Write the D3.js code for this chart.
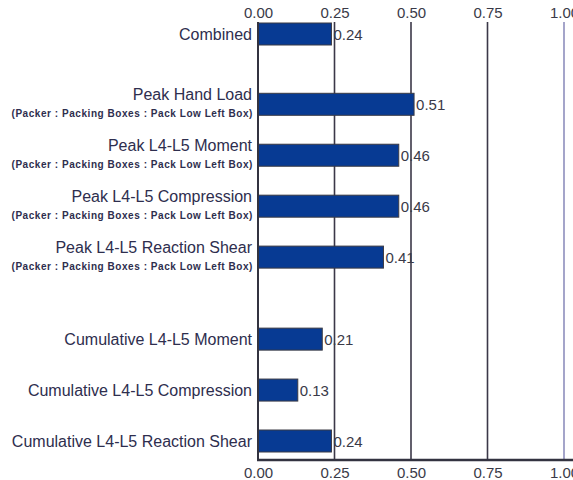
<!DOCTYPE html>
<html>
<head>
<meta charset="utf-8">
<script src="https://cdn.jsdelivr.net/npm/d3@7"></script>
<style>
  html, body { margin: 0; padding: 0; background: #fff; }
  svg { display: block; }
  text { font-family: "Liberation Sans", Arial, sans-serif; }
</style>
</head>
<body>
<svg id="chart" width="573" height="480"></svg>
<script>
const categories = [
  "Combined",
  "Peak Hand Load",
  "Peak L4-L5 Moment",
  "Peak L4-L5 Compression",
  "Peak L4-L5 Reaction Shear",
  "Cumulative L4-L5 Moment",
  "Cumulative L4-L5 Compression",
  "Cumulative L4-L5 Reaction Shear"
];
const subtitles = [
  "",
  "(Packer : Packing Boxes : Pack Low Left Box)",
  "(Packer : Packing Boxes : Pack Low Left Box)",
  "(Packer : Packing Boxes : Pack Low Left Box)",
  "(Packer : Packing Boxes : Pack Low Left Box)",
  "",
  "",
  ""
];
const values = [0.24, 0.51, 0.46, 0.46, 0.41, 0.21, 0.13, 0.24];
const valueLabels = ["0.24", "0.51", "0.46", "0.46", "0.41", "0.21", "0.13", "0.24"];
const groups = [0, 1, 1, 1, 1, 2, 2, 2];
const tickValues = [0, 0.25, 0.5, 0.75, 1.0];
const tickLabels = ["0.00", "0.25", "0.50", "0.75", "1.00"];

// layout
const groupOffset = [0, 0.38, 0.99];
const plotTop = 22, plotBottom = 460;
const x = d3.scaleLinear().domain([0, 1]).range([258, 564]);
const rowPos = categories.map((c, i) => i + groupOffset[groups[i]]);
const y = d3.scaleLinear().domain([0, d3.max(rowPos)]).range([34, 441]);
const barH = 22;

const svg = d3.select("#chart");

// gridlines
svg.append("g").selectAll("line")
  .data(tickValues.filter(v => v > 0))
  .join("line")
  .attr("x1", d => x(d)).attr("x2", d => x(d))
  .attr("y1", plotTop).attr("y2", plotBottom)
  .attr("stroke", d => d === 1 ? "#8e8fbd" : "#3b3848")
  .attr("stroke-width", 1.6);

// bars
const rows = categories.map((c, i) => ({ c, s: subtitles[i], v: values[i], l: valueLabels[i], p: rowPos[i] }));

svg.append("g").selectAll("rect")
  .data(rows)
  .join("rect")
  .attr("x", x(0))
  .attr("y", d => y(d.p) - barH / 2)
  .attr("width", d => x(d.v) - x(0))
  .attr("height", barH)
  .attr("fill", "#073a93")
  .attr("stroke", "#3a3a44")
  .attr("stroke-width", 1);

// value labels
svg.append("g").selectAll("text")
  .data(rows)
  .join("text")
  .attr("x", d => x(d.v) + 2)
  .attr("y", d => y(d.p) + 5.5)
  .attr("font-size", 15)
  .attr("fill", "#3a3a48")
  .text(d => d.l);

// category labels
const lab = svg.append("g").selectAll("g")
  .data(rows)
  .join("g");
lab.append("text")
  .attr("x", 252)
  .attr("y", d => d.s ? y(d.p) - 4 : y(d.p) + 5.5)
  .attr("text-anchor", "end")
  .attr("font-size", 16)
  .attr("fill", "#2e2e4e")
  .text(d => d.c);
lab.filter(d => d.s).append("text")
  .attr("x", 253)
  .attr("y", d => y(d.p) + 12.5)
  .attr("text-anchor", "end")
  .attr("font-size", 10)
  .attr("font-weight", "bold")
  .attr("letter-spacing", 0.55)
  .attr("fill", "#2e2e4e")
  .text(d => d.s);

// axes lines
svg.append("line")
  .attr("x1", x(0)).attr("x2", x(0))
  .attr("y1", plotTop).attr("y2", plotBottom + 1)
  .attr("stroke", "#333340").attr("stroke-width", 2);
svg.append("line")
  .attr("x1", x(0) - 1).attr("x2", 573)
  .attr("y1", plotBottom).attr("y2", plotBottom)
  .attr("stroke", "#333340").attr("stroke-width", 2.5);

// tick labels via axes
const fmt = (d) => tickLabels[tickValues.indexOf(d)];
const topAxis = d3.axisTop(x).tickValues(tickValues).tickFormat(fmt).tickSize(0).tickPadding(0);
const botAxis = d3.axisBottom(x).tickValues(tickValues).tickFormat(fmt).tickSize(0).tickPadding(0);

const gt = svg.append("g").attr("transform", "translate(0,18)").call(topAxis);
const gb = svg.append("g").attr("transform", "translate(0,466)").call(botAxis);
[gt, gb].forEach(g => {
  g.select(".domain").remove();
  g.selectAll("text")
    .attr("font-size", 15)
    .attr("font-family", "'Liberation Sans', Arial, sans-serif")
    .attr("fill", "#3a3a48");
});
gt.selectAll("text").attr("dy", "0");
gb.selectAll("text").attr("dy", "0.8em");
</script>
</body>
</html>
